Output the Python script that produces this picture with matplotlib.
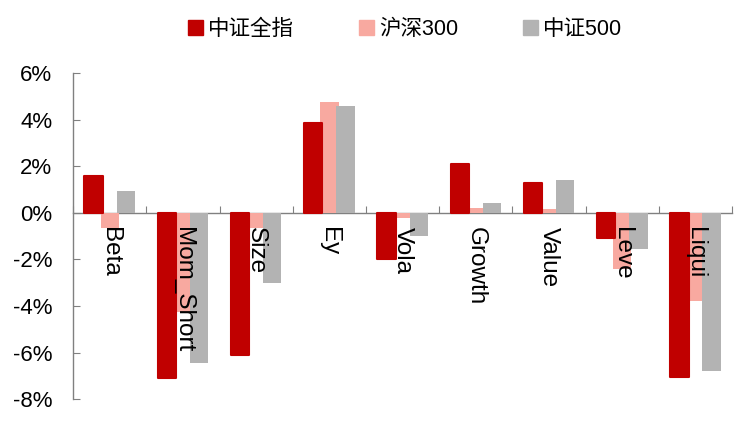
import matplotlib
matplotlib.use("Agg")

import matplotlib.pyplot as plt
from matplotlib.patches import Patch
from matplotlib.ticker import FuncFormatter
import numpy as np

# factor names and the three index series (in %)
factors = ["Beta", "Mom_Short", "Size", "Ey", "Vola", "Growth", "Value", "Leve", "Liqui"]
series_names = ["中证全指", "沪深300", "中证500"]
csi_all = [1.6, -7.1, -6.1, 3.85, -2.0, 2.1, 1.3, -1.1, -7.05]
hs300 = [-0.63, -4.25, -0.63, 4.77, -0.2, 0.21, 0.16, -2.43, -3.79]
csi500 = [0.93, -6.43, -3.0, 4.59, -1.0, 0.44, 1.41, -1.57, -6.79]
y_ticks = [-8, -6, -4, -2, 0, 2, 4, 6]

RED = "#C00000"
PINK = "#F8A9A0"
GRAY = "#B3B3B3"
AXIS_GRAY = "#808080"

plt.rcParams["font.family"] = ["Liberation Sans", "Noto Sans CJK SC"]

fig = plt.figure(figsize=(7.38, 4.23), dpi=100)
ax = fig.add_axes([0.099, 0.056, 0.893, 0.7714])

x = np.arange(len(factors))
w = 0.25
ax.bar(x, hs300, w, color=PINK, zorder=3)
ax.bar(x + 0.22, csi500, w, color=GRAY, zorder=3)
ax.bar(x - 0.22, csi_all, w, color=RED, edgecolor=RED, linewidth=1.5,
       joinstyle="round", zorder=4)

# category labels rotated, just under the zero line
for i, name in enumerate(factors):
    ax.text(i, -0.6, name, rotation=270, ha="center", va="top",
            fontsize=17.5, zorder=6)

ax.set_xlim(-0.5, len(factors) - 0.5)
ax.set_ylim(-8, 6)
ax.set_yticks(y_ticks)
ax.yaxis.set_major_formatter(FuncFormatter(lambda v, p: "{:.0f}%".format(v)))
ax.set_xticks(np.arange(-0.5, len(factors), 1.0))
ax.set_xticklabels([])

ax.spines["top"].set_visible(False)
ax.spines["right"].set_visible(False)
ax.spines["bottom"].set_position(("data", 0))
for s in ["left", "bottom"]:
    ax.spines[s].set_color(AXIS_GRAY)
    ax.spines[s].set_linewidth(1.0)
ax.tick_params(axis="y", direction="in", length=5, color=AXIS_GRAY,
               labelsize=16, pad=15)
ax.tick_params(axis="x", direction="in", length=5, color=AXIS_GRAY)

handles = [Patch(color=RED), Patch(color=PINK), Patch(color=GRAY)]
fig.legend(handles, series_names, loc="upper center", bbox_to_anchor=(0.549, 1.0),
           ncol=3, frameon=False, fontsize=15.5, handlelength=0.7, handleheight=0.7,
           handletextpad=0.25, columnspacing=3.0)

fig.savefig("out.png", dpi=100)
